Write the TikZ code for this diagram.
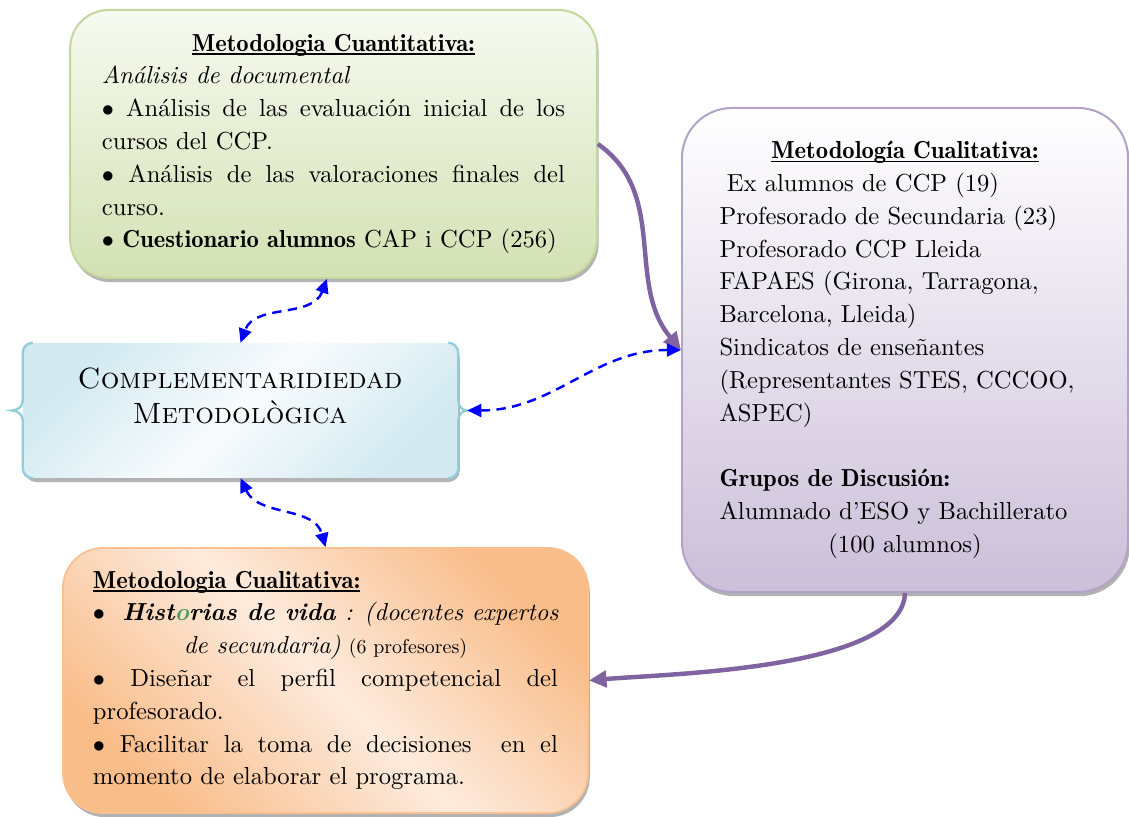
\documentclass[tikz,border=0pt]{standalone}
\usepackage{fontspec}
\setmainfont{lmroman10}[Extension=.otf, UprightFont=*-regular, BoldFont=lmromandemi10-regular,
    ItalicFont=*-italic, BoldItalicFont=*-bolditalic, SmallCapsFont=lmromancaps10-regular]
\usepackage{tikz}
\usetikzlibrary{arrows.meta, shadows, positioning}
\setlength{\parindent}{0pt}
\hyphenpenalty=10000
\exhyphenpenalty=10000
\newcommand{\uln}[1]{\setbox0\hbox{#1}\rlap{\rule[-3pt]{\wd0}{1.2pt}}\box0}

\definecolor{greenline}{HTML}{C3D69B}
\definecolor{greentop}{HTML}{F7FAF1}
\definecolor{greenbottom}{HTML}{D3E1B3}
\definecolor{violetline}{HTML}{B3A2C7}
\definecolor{violetbottom}{HTML}{CBBFD9}
\definecolor{blueline}{HTML}{92CDDC}
\definecolor{bluefill}{HTML}{D3EAF1}
\definecolor{orangeline}{HTML}{FAC090}
\definecolor{orangedark}{HTML}{F9BD8A}
\definecolor{orangelight}{HTML}{FDEBDD}
\definecolor{arrowviolet}{HTML}{8064A2}
\definecolor{lettergreen}{HTML}{4A9E5C}

\begin{document}
\begin{tikzpicture}[x=0.03cm, y=0.03cm,
    txt/.style={font=\fontsize{21}{28}\selectfont},
    boxshadow/.style={general shadow={fill=gray!60, shadow xshift=1.5pt, shadow yshift=-3.5pt}},
    link/.style={blue, line width=2.1pt, dash pattern=on 8pt off 5.5pt,
        {Triangle[length=12pt,width=11pt]}-{Triangle[length=12pt,width=11pt]}},
    flow/.style={arrowviolet, line width=3.8pt, -{Triangle[length=15pt,width=14pt]}}]
    \useasboundingbox (0,0) rectangle (1129,816);

    % cuantitativa
    \node[txt, align=justify, draw=greenline, line width=1.7pt, rounded corners=1.15cm,
        top color=greentop, bottom color=greenbottom, boxshadow,
        minimum width=15.8cm, minimum height=8.04cm, text width=13.89cm] (quant) at (333.5,672) {%
        {\centering\uln{\textbf{Metodologia Cuantitativa:}}\par}
        \textit{Análisis de documental}\par
        $\bullet$ Análisis de las evaluación inicial de los\linebreak cursos del CCP.\par
        $\bullet$ Análisis de las valoraciones finales del\linebreak curso.\par
        $\bullet$ \textbf{Cuestionario alumnos} CAP i CCP (256)};

    % cualitativa (derecha)
    \node[txt, align=left, draw=violetline, line width=1.7pt, rounded corners=1.5cm,
        top color=white, bottom color=violetbottom, boxshadow,
        minimum width=13.38cm, minimum height=14.52cm, text width=11.13cm] (qual) at (905,466) {%
        {\centering\uln{\textbf{Metodología Cualitativa:}}\par}
        \hspace*{0.3em}Ex alumnos de CCP (19)\\
        Profesorado de Secundaria (23)\\
        Profesorado CCP Lleida\\
        FAPAES (Girona, Tarragona,\\
        Barcelona, Lleida)\\
        Sindicatos de enseñantes\\
        (Representantes STES, CCCOO,\\
        ASPEC)\\[28pt]
        \textbf{Grupos de Discusión:}\\
        Alumnado d’ESO y Bachillerato\par
        {\centering (100 alumnos)\par}};

    % complementariedad
    \node[rounded corners=0.35cm, top color=bluefill, bottom color=bluefill, middle color=white!85!bluefill,
        shading angle=45, boxshadow, minimum width=13.05cm, minimum height=4.05cm] (compl) at (240.5,405.5) {};
    \draw[blueline, line width=2pt]
        ([xshift=0.3cm]compl.north west) to[out=180,in=90] ([yshift=-0.3cm]compl.north west)
        -- ([yshift=0.3cm]compl.west) to[out=-90,in=0] ([xshift=-0.33cm]compl.west)
        to[out=0,in=90] ([yshift=-0.3cm]compl.west) -- ([yshift=0.3cm]compl.south west)
        to[out=-90,in=180] ([xshift=0.3cm]compl.south west);
    \draw[blueline, line width=2pt]
        ([xshift=-0.3cm]compl.north east) to[out=0,in=90] ([yshift=-0.3cm]compl.north east)
        -- ([yshift=0.3cm]compl.east) to[out=-90,in=180] ([xshift=0.27cm]compl.east) coordinate (bracetip)
        to[out=180,in=90] ([yshift=-0.3cm]compl.east) -- ([yshift=0.3cm]compl.south east)
        to[out=-90,in=0] ([xshift=-0.3cm]compl.south east);
    \node[font=\fontsize{25}{30}\selectfont, align=center] (compltext) at (240,420)
        {\textsc{Complementaridiedad}\\\textsc{Metodològica}};

    % cualitativa (abajo)
    \node[txt, align=justify, draw=orangeline, line width=1.5pt, rounded corners=1.2cm,
        top color=orangedark, bottom color=orangedark, middle color=orangelight, shading angle=-45, boxshadow,
        minimum width=15.75cm, minimum height=7.95cm, text width=13.95cm] (hist) at (325.5,135.5) {%
        \uln{\textbf{Metodologia Cualitativa:}}\par
        \mbox{$\bullet$\hspace{0.7em}\textbf{\textit{Hist{\color{lettergreen}o}rias de vida}}\textit{ : (docentes expertos}}\par
        {\centering\textit{de secundaria)} {\fontsize{17}{28}\selectfont(6 profesores)}\par}
        $\bullet$ Diseñar el perfil competencial del\linebreak profesorado.\par
        $\bullet$ Facilitar la toma de decisiones \ en el\linebreak momento de elaborar el programa.};

    % conexiones
    \draw[flow] (quant.east) to[out=-35, in=130] (qual.west);
    \draw[flow] (qual.south) to[out=-92, in=5, looseness=0.6] (hist.east);
    \draw[link] ([xshift=-0.2cm]quant.south) to[out=-110, in=70] (compl.north);
    \draw[link] (bracetip) to[out=0, in=180] (qual.west);
    \draw[link] (compl.south) to[out=-65, in=105] (hist.north);
\end{tikzpicture}
\end{document}
